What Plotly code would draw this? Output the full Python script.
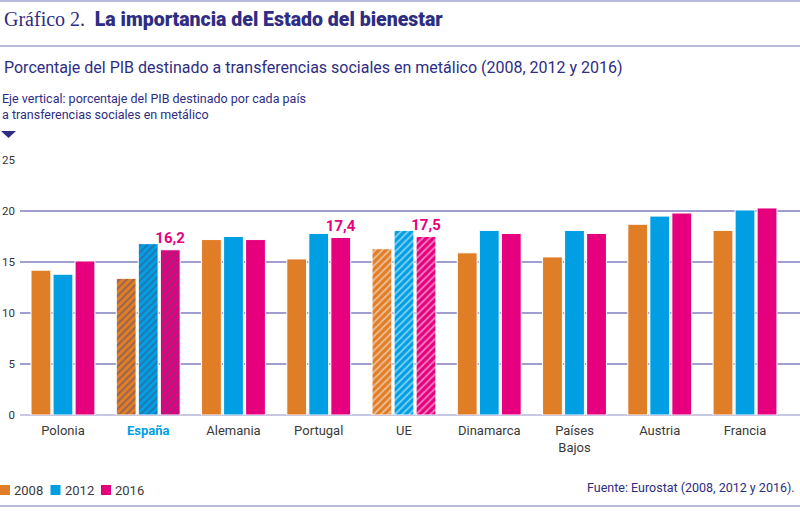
import plotly.graph_objects as go

countries = ["Polonia", "España", "Alemania", "Portugal", "UE",
             "Dinamarca", "Países Bajos", "Austria", "Francia"]
tick_labels = ["Polonia", "<b><span style='color:#009FE3'>España</span></b>", "Alemania",
               "Portugal", "UE", "Dinamarca", "Países<br>Bajos", "Austria", "Francia"]
v2008 = [14.2, 13.4, 17.2, 15.3, 16.3, 15.9, 15.5, 18.7, 18.1]
v2012 = [13.8, 16.8, 17.5, 17.8, 18.1, 18.1, 18.1, 19.5, 20.1]
v2016 = [15.1, 16.2, 17.2, 17.4, 17.5, 17.8, 17.8, 19.8, 20.3]
labels2016 = ["", "16,2", "", "17,4", "17,5", "", "", "", ""]
years = ["2008", "2012", "2016"]
colors = ["#E07D27", "#009FE3", "#E6007E"]

NAVY = "#2E2D83"
LAV = "#A09FCF"
SANS = "Roboto, Arial, sans-serif"

# hatch: España dark stripes, UE white stripes
shapes_pat = ["", "/", "", "", "/", "", "", "", ""]
fg_pat = ["#FFFFFF", "#4A4A7A", "#FFFFFF", "#FFFFFF", "#FFFFFF",
          "#FFFFFF", "#FFFFFF", "#FFFFFF", "#FFFFFF"]

fig = go.Figure()
for name, vals, col in zip(years, [v2008, v2012, v2016], colors):
    fig.add_trace(go.Bar(
        x=countries, y=vals, name=name,
        marker=dict(color=col, line=dict(color="white", width=1),
                    pattern=dict(shape=shapes_pat, fgcolor=fg_pat, fillmode="overlay",
                                 size=5, solidity=0.35)),
        text=labels2016 if name == "2016" else None,
        textposition="outside", constraintext="none", cliponaxis=False,
        textfont=dict(family=SANS, size=15, color="#E6007E", weight="bold"),
        hoverinfo="x+y+name", showlegend=False,
    ))

# plot area: x 20..800, y 160..415 (pixels)
T, B, L = 160, 415, 20
H = B - T
W = 800 - L


def py(p):
    return (B - p) / H


def px_(p):
    return (p - L) / W


fig.update_layout(
    width=800, height=511,
    margin=dict(l=L, r=0, t=T, b=511 - B),
    paper_bgcolor="white", plot_bgcolor="white",
    barmode="group", bargap=0.225, bargroupgap=0.1,
    font=dict(family=SANS, color="#333333"),
    xaxis=dict(range=[-0.504, 8.645], tickmode="array", tickvals=countries,
               ticktext=tick_labels, showgrid=False, showline=False, ticks="",
               tickfont=dict(size=13, color="#3A3A3A"), ticklabelstandoff=6),
    yaxis=dict(range=[0, 25], dtick=5, showgrid=True, gridcolor=LAV, gridwidth=2,
               zeroline=True, zerolinecolor="#C9C8E4", zerolinewidth=2,
               tickfont=dict(size=11.5, color="#333333"), ticklabelstandoff=4,
               fixedrange=True),
    showlegend=False,
)

fig.add_annotation(xref="paper", yref="paper", x=px_(2), y=py(19), xanchor="left",
                   yanchor="middle", showarrow=False,
                   text="<span style='font-family:Liberation Serif, serif;font-size:20px'>Gráfico 2.</span>"
                        "  <span style='font-weight:900'>La importancia del Estado del bienestar</span>",
                   font=dict(family=SANS, size=19.5, color=NAVY))
fig.add_annotation(xref="paper", yref="paper", x=px_(2), y=py(68), xanchor="left",
                   yanchor="middle", showarrow=False,
                   text="Porcentaje del PIB destinado a transferencias sociales en metálico (2008, 2012 y 2016)",
                   font=dict(family=SANS, size=16, color=NAVY))
fig.add_annotation(xref="paper", yref="paper", x=px_(0), y=py(106), xanchor="left",
                   yanchor="middle", showarrow=False, align="left",
                   text="Eje vertical: porcentaje del PIB destinado por cada país<br>a transferencias sociales en metálico",
                   font=dict(family=SANS, size=12.5, color=NAVY))
fig.add_annotation(xref="paper", yref="paper", x=px_(797), y=py(488), xanchor="right",
                   yanchor="middle", showarrow=False,
                   text="Fuente: Eurostat (2008, 2012 y 2016).",
                   font=dict(family=SANS, size=12.5, color=NAVY))

# legend: colour squares and year labels
for i, (name, col) in enumerate(zip(years, colors)):
    x0 = i * 50.5
    fig.add_shape(type="rect", xref="paper", yref="paper",
                  x0=px_(x0), x1=px_(x0 + 10), y0=py(485), y1=py(495),
                  fillcolor=col, line=dict(width=0))
    fig.add_annotation(xref="paper", yref="paper", x=px_(x0 + 12), y=py(490),
                       xanchor="left", yanchor="middle", showarrow=False,
                       text=name, font=dict(family=SANS, size=13, color="#3A3A3A"))

# decorative lines and arrow
for yp in [1, 46, 506]:
    fig.add_shape(type="line", xref="paper", yref="paper", x0=px_(0), x1=px_(800),
                  y0=py(yp), y1=py(yp), line=dict(color="#B9B8DD", width=2))
fig.add_shape(type="path", xref="paper", yref="paper",
              path=f"M {px_(1)} {py(131)} L {px_(16)} {py(131)} L {px_(8.5)} {py(138)} Z",
              fillcolor=NAVY, line=dict(width=0))

fig.write_html("out.html", config={"displayModeBar": False},
               post_script="document.body.style.margin='0';")
